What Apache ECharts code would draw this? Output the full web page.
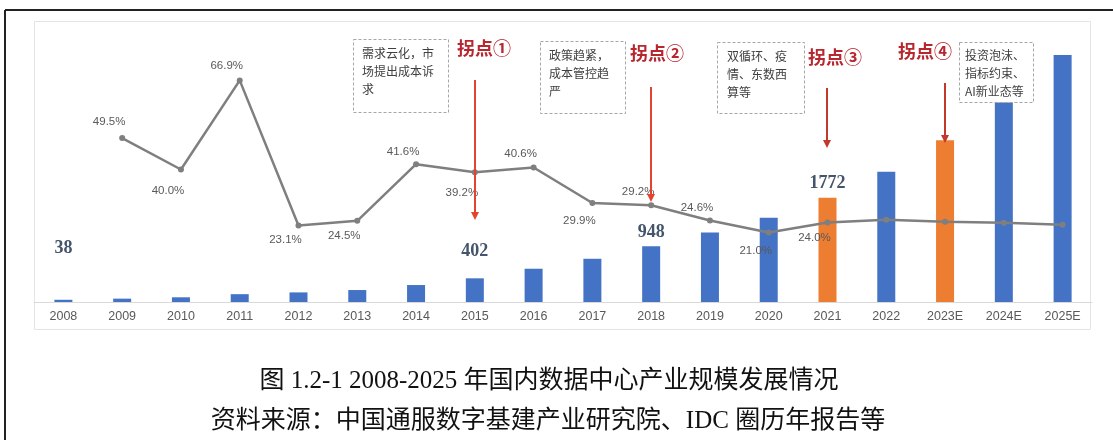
<!DOCTYPE html>
<html><head><meta charset="utf-8">
<script src="https://cdn.jsdelivr.net/npm/echarts@6/dist/echarts.min.js"></script>
<style>html,body{margin:0;padding:0;background:#fff}#c{width:1113px;height:440px}</style>
</head><body><div id="c"></div>
<script>
// ---------- data ----------
const categories = ['2008','2009','2010','2011','2012','2013','2014','2015','2016','2017','2018','2019','2020','2021','2022','2023E','2024E','2025E'];
const marketSize = [38,57,80,133,163,203,288,402,565,734,948,1181,1429,1772,2211,2746,3402,4195];
const growthRate = [null,49.5,40.0,66.9,23.1,24.5,41.6,39.2,40.6,29.9,29.2,24.6,21.0,24.0,24.8,24.2,23.9,23.3];
const labeledGrowthYears = ['2009','2010','2011','2012','2013','2014','2015','2016','2017','2018','2019','2020','2021'];
const highlightYears = ['2021','2023E'];
const sizeLabelYears = ['2008','2015','2018','2021'];
const turningYears = ['2015','2018','2021','2023E'];
const turningNames = ['拐点①','拐点②','拐点③','拐点④'];
const turningNotes = [
  ['需求云化，市','场提出成本诉','求'],
  ['政策趋紧，','成本管控趋','严'],
  ['双循环、疫','情、东数西','算等'],
  ['投资泡沫、','指标约束、','AI新业态等']
];
const captionLines = ['图 1.2-1 2008-2025 年国内数据中心产业规模发展情况','资料来源：中国通服数字基建产业研究院、IDC 圈历年报告等'];

// ---------- style / layout (not data) ----------
const BLUE = '#4472c4', ORANGE = '#ed7d31', GRAY_LINE = '#7f7f7f';
// growth label placement: [position, dy]
const growthLabelPlace = {
  '2009':['top',-2],'2010':['bottom',7],'2011':['top',-1],'2012':['bottom',0],'2013':['bottom',1],
  '2014':['top',2],'2015':['bottom',7],'2016':['top',0],'2017':['bottom',4],'2018':['top',1],
  '2019':['top',1],'2020':['bottom',4],'2021':['bottom',1]
};
const sizeLabelDy = {'2008':-37,'2015':-13,'2018':0,'2021':0};
const turnLayout = [
  {lx:457, ly:48, box:[353,39,95,73], tx:362, ty:44, a1:80, a2:220, color:'#e4432d'},
  {lx:630, ly:53, box:[540,41,85,72], tx:549, ty:46, a1:87, a2:202, color:'#e4432d'},
  {lx:808, ly:57, box:[717,42,87,71], tx:727, ty:47, a1:88, a2:148, color:'#c0392b'},
  {lx:898, ly:51, box:[959,42,74,60], tx:965, ty:46, a1:83, a2:143, color:'#c0392b'}
];

const chart = echarts.init(document.getElementById('c'), null, {renderer:'canvas'});

const barData = marketSize.map((v,i) => {
  const cat = categories[i];
  const item = {value: v, itemStyle: {color: highlightYears.includes(cat) ? ORANGE : BLUE}};
  if (sizeLabelYears.includes(cat)) {
    item.label = {show: true, position: 'top', offset: [0, sizeLabelDy[cat]],
      fontFamily: 'Liberation Serif', fontSize: 18, fontWeight: 'bold', color: '#44546a'};
  }
  return item;
});

const lineData = growthRate.map((v,i) => {
  const cat = categories[i];
  const item = {value: v};
  if (labeledGrowthYears.includes(cat)) {
    const p = growthLabelPlace[cat];
    item.label = {show: true, position: p[0], offset: [-13, p[1]]};
  }
  return item;
});

chart.setOption({
  animation: false,
  backgroundColor: '#fff',
  grid: {left: 34, right: 21, top: 37, bottom: 138},
  xAxis: {
    type: 'category', data: categories,
    axisLine: {lineStyle: {color: '#d9d9d9'}},
    axisTick: {show: false},
    axisLabel: {color: '#595959', fontSize: 12.5, fontFamily: 'Liberation Sans', margin: 8}
  },
  yAxis: [
    {type: 'value', min: 0, max: 4500, show: false, splitLine: {show: false}},
    {type: 'value', min: 0, max: 80, show: false, splitLine: {show: false}}
  ],
  series: [
    {type: 'bar', data: barData, barWidth: 18, yAxisIndex: 0, z: 2},
    {type: 'line', data: lineData, yAxisIndex: 1, z: 3,
      lineStyle: {color: GRAY_LINE, width: 2.5},
      itemStyle: {color: GRAY_LINE},
      symbol: 'circle', symbolSize: 6, connectNulls: false,
      label: {show: false, formatter: p => p.value.toFixed(1) + '%',
        color: '#595959', fontSize: 11.5, fontFamily: 'Liberation Sans', distance: 5}
    }
  ]
});

// ---------- annotations ----------
const g = [];
g.push({type:'line', shape:{x1:5, y1:10, x2:1113, y2:10}, style:{stroke:'#222', lineWidth:2}, silent:true});
g.push({type:'line', shape:{x1:5, y1:10, x2:5, y2:440}, style:{stroke:'#222', lineWidth:2}, silent:true});
g.push({type:'rect', shape:{x:34.5, y:21.5, width:1056, height:308}, style:{fill:'none', stroke:'#e4e4e4', lineWidth:1}, silent:true, z:-1});

turnLayout.forEach((L, i) => {
  const x = Math.round(chart.convertToPixel({xAxisIndex:0}, turningYears[i]));
  g.push({type:'rect', shape:{x:L.box[0]+0.5, y:L.box[1]+0.5, width:L.box[2], height:L.box[3]},
    style:{fill:'#fff', stroke:'#a6a6a6', lineWidth:1, lineDash:[3,2]}, z:10});
  g.push({type:'text', x:L.tx, y:L.ty, z:11,
    style:{text: turningNotes[i].join('\n'), fontSize:12, lineHeight:18, fill:'#404040',
      fontFamily:'Noto Sans CJK SC', textVerticalAlign:'top', verticalAlign:'top'}});
  g.push({type:'text', x:L.lx, y:L.ly, z:11,
    style:{text: turningNames[i], fontSize:18, fontWeight:'bold', fill:'#b8262e',
      fontFamily:'Noto Sans CJK SC', verticalAlign:'middle', textVerticalAlign:'middle'}});
  g.push({type:'line', z:12, shape:{x1:x, y1:L.a1, x2:x, y2:L.a2-6}, style:{stroke:L.color, lineWidth:2}});
  g.push({type:'polygon', z:12, shape:{points:[[x-4, L.a2-8],[x+4, L.a2-8],[x, L.a2]]}, style:{fill:L.color}});
});

g.push({type:'text', x:549, y:381, style:{text:captionLines[0], fontSize:25, fill:'#111',
  fontFamily:'Liberation Serif, Noto Sans CJK SC', align:'center', verticalAlign:'middle', textAlign:'center', textVerticalAlign:'middle'}});
g.push({type:'text', x:548, y:421, style:{text:captionLines[1], fontSize:25, fill:'#111',
  fontFamily:'Liberation Serif, Noto Sans CJK SC', align:'center', verticalAlign:'middle', textAlign:'center', textVerticalAlign:'middle'}});

chart.setOption({graphic: {elements: g}});
</script>
</body></html>
